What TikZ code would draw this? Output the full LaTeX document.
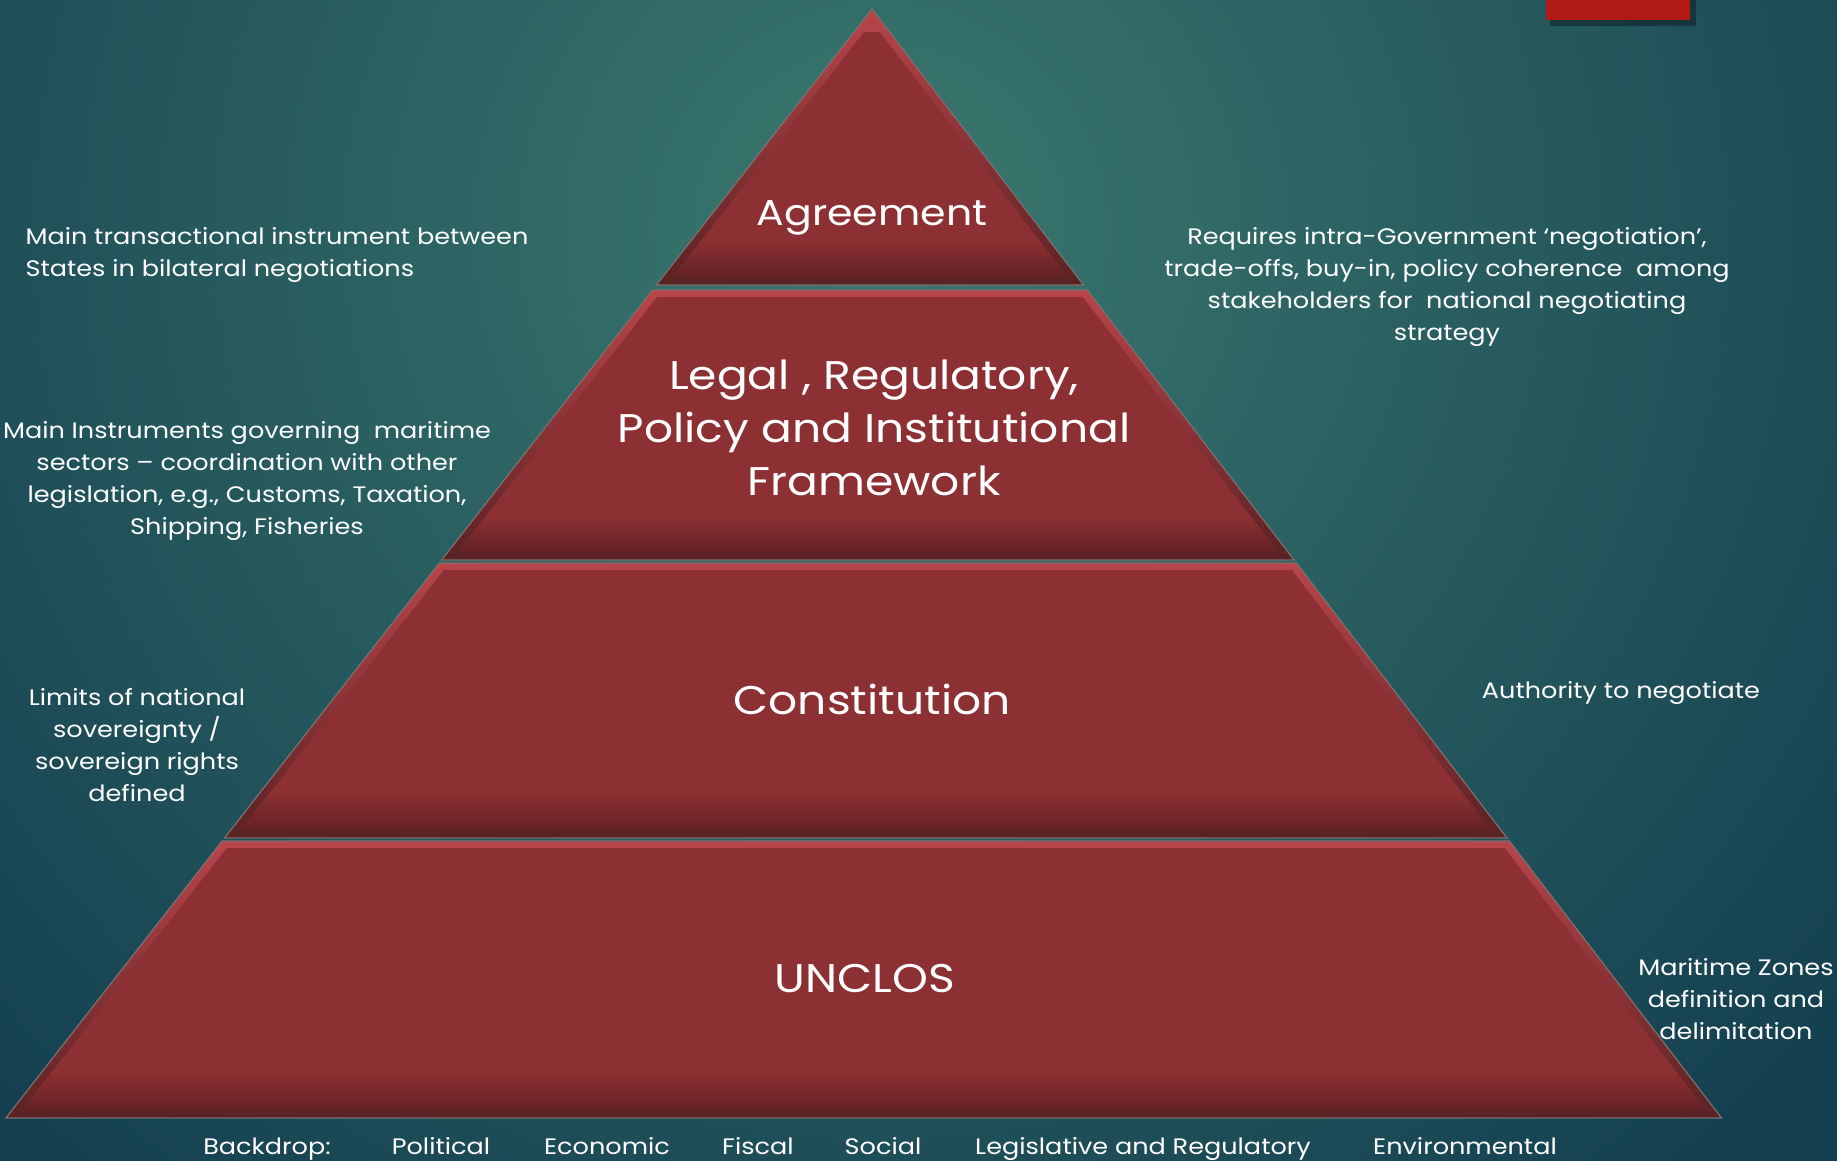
\documentclass[tikz,border=0pt]{standalone}
\usepackage{fontspec}
\setmainfont{Poppins}[FakeStretch=1.14]
\definecolor{bgin}{HTML}{3B786E}
\definecolor{bgout}{HTML}{143F50}
\definecolor{pyr}{HTML}{8C3033}
\definecolor{pyrlight}{HTML}{B8454A}
\definecolor{pyrdark}{HTML}{5A2224}
\definecolor{rim}{HTML}{7C7070}
\definecolor{tab}{HTML}{B21A16}
\tikzset{
  every picture/.style={x=1pt, y=-1pt},
  big/.style={text=white, font=\fontsize{40}{53}\selectfont, align=center},
  note/.style={text=white, font=\fontsize{22.4}{32}\selectfont, align=center},
  back/.style={text=white, font=\fontsize{22.4}{28}\selectfont, anchor=base},
}
% pyramid sides: apex (872,9), feet (6,1118) and (1722,1118)
\newcommand{\layer}[3]{% top, bottom, inner top
  \pgfmathsetmacro{\la}{872-0.781*(#1-9)}
  \pgfmathsetmacro{\ra}{872+0.766*(#1-9)}
  \pgfmathsetmacro{\lb}{872-0.781*(#2-9)}
  \pgfmathsetmacro{\rb}{872+0.766*(#2-9)}
  \pgfmathsetmacro{\li}{872-0.781*(#3-9)+10}
  \pgfmathsetmacro{\ri}{872+0.766*(#3-9)-10}
  \pgfmathsetmacro{\lj}{872-0.781*(#2-18)+10}
  \pgfmathsetmacro{\rj}{872+0.766*(#2-18)-10}
  \pgfmathsetmacro{\lk}{872-0.781*(#2-54)+10}
  \pgfmathsetmacro{\rk}{872+0.766*(#2-54)-10}
  \shade[top color=pyrlight, bottom color=pyrdark, draw=rim, line width=1.2pt]
    (\la,#1) -- (\ra,#1) -- (\rb,#2) -- (\lb,#2) -- cycle;
  \fill[pyr] (\li,#3) -- (\ri,#3) -- (\rj,#2-9) -- (\lj,#2-9) -- cycle;
  \shade[top color=pyr, bottom color=pyr!72!black]
    (\lk,#2-45) -- (\rk,#2-45) -- (\rj,#2-9) -- (\lj,#2-9) -- cycle;
}

\begin{document}
\begin{tikzpicture}
  \useasboundingbox (0,0) rectangle (1837,1160);
  \begin{scope}
    \clip (-4,-4) rectangle (1841,1164);
    \fill[bgout] (-4,-4) rectangle (1841,1164);
    \shade[inner color=bgin, outer color=bgout] (880,230) circle (1250);
  \end{scope}
  % tab at the top right
  \fill[black, opacity=0.35] (1550,-4) rectangle (1696,26);
  \fill[tab] (1546,-4) rectangle (1690,20);

  \layer{9}{285}{32}
  \layer{290}{560}{297}
  \layer{563}{838}{570}
  \layer{841}{1118}{848}

  \node[big, font=\fontsize{36}{48}\selectfont] (agree) at (872,218) {Agreement};
  \node[big] (legal) at (874,428) {Legal , Regulatory,\\Policy and Institutional\\Framework};
  \node[big] (const) at (872,699) {Constitution};
  \node[big] (unclos) at (865,979) {UNCLOS};

  \node[note, align=left, anchor=west] (n1) at (22,255)
    {Main transactional instrument between\\States in bilateral negotiations};
  \node[note] (n2) at (247,481) {Main Instruments governing \ maritime\\sectors -- coordination with other\\legislation, e.g., Customs, Taxation,\\Shipping, Fisheries};
  \node[note] (n3) at (137,745) {Limits of national\\sovereignty /\\sovereign rights\\defined};
  \node[note] (n4) at (1447,287) {Requires intra-Government ‘negotiation’,\\trade-offs, buy-in, policy coherence \ among\\stakeholders for \ national negotiating\\strategy};
  \node[note] (n5) at (1621,693) {Authority to negotiate};
  \node[note] (n6) at (1736,999) {Maritime Zones\\definition and\\delimitation};

  \node[back] (b0) at (267,1154) {Backdrop:};
  \node[back] (b1) at (441,1154) {Political};
  \node[back] (b2) at (607,1154) {Economic};
  \node[back] (b3) at (758,1154) {Fiscal};
  \node[back] (b4) at (883,1154) {Social};
  \node[back] (b5) at (1143,1154) {Legislative and Regulatory};
  \node[back] (b6) at (1465,1154) {Environmental};
\end{tikzpicture}
\end{document}
